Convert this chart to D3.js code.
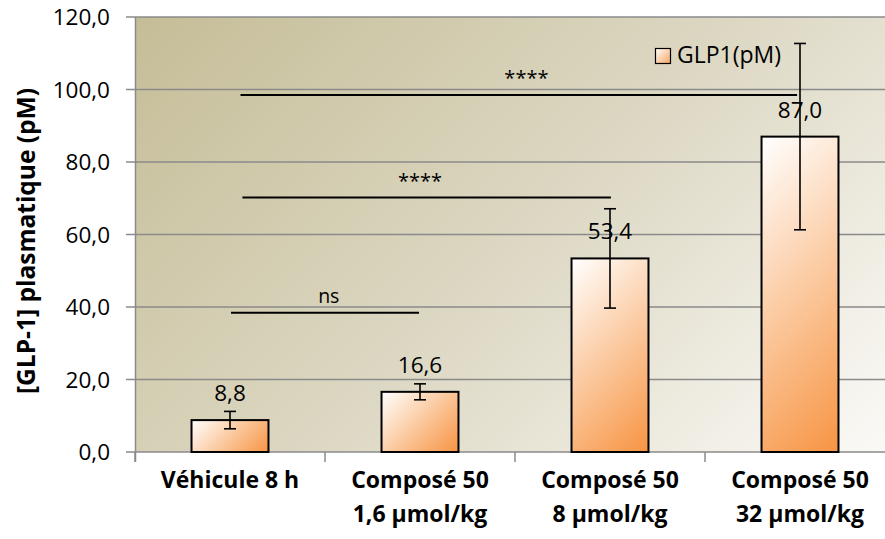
<!DOCTYPE html>
<html><head><meta charset="utf-8">
<script src="https://cdn.jsdelivr.net/npm/d3@7"></script>
<style>
html,body{margin:0;padding:0;background:#fff;}
svg{display:block;}
text{font-family:"Open Sans","Noto Sans",sans-serif;fill:#000;}
</style></head>
<body>
<script>
const categories = [["Véhicule 8 h"], ["Composé 50","1,6 µmol/kg"], ["Composé 50","8 µmol/kg"], ["Composé 50","32 µmol/kg"]];
const values = [8.8, 16.6, 53.4, 87.0];
const errors = [2.4, 2.2, 13.7, 25.7];
const yTicks = [0, 20, 40, 60, 80, 100, 120];
const seriesName = "GLP1(pM)";
const yTitle = "[GLP-1] plasmatique (pM)";
const sigLabels = ["ns", "****", "****"];
const sigLevels = [38.4, 70.2, 98.5];
const sigFrom = [0.0, 0.06, 0.05];
const sigTo = [1.0, 2.01, 2.99];
const sigTextAt = [0.52, 1.0, 1.56];

(function () {
const W = 885, H = 539;
const pL = 135, pR = 895, pT = 17, pB = 452;
const fmt = v => d3.format(".1f")(v).replace(".", ",");

const svg = d3.select("body").append("svg").attr("width", W).attr("height", H);
const defs = svg.append("defs");

const x = d3.scaleBand().domain(d3.range(categories.length)).range([pL, pR]).paddingInner(0.595).paddingOuter(0.2975);
const xi = d3.scaleLinear().domain([-0.5, categories.length - 0.5]).range([pL, pR]);
const y = d3.scaleLinear().domain([0, 120]).range([pB, pT]);

const bgS = ((pR - pL) + (pB - pT)) / 2;
const bg = defs.append("linearGradient").attr("id", "bg").attr("gradientUnits", "userSpaceOnUse")
  .attr("x1", pL).attr("y1", pT).attr("x2", pL + bgS).attr("y2", pT + bgS);
bg.append("stop").attr("offset", 0).attr("stop-color", "#c5bd97");
bg.append("stop").attr("offset", 0.5).attr("stop-color", "#dcd7c2");
bg.append("stop").attr("offset", 1).attr("stop-color", "#fbfaf7");
svg.append("rect").attr("x", pL).attr("y", pT).attr("width", pR - pL).attr("height", pB - pT).attr("fill", "url(#bg)");

svg.append("g").selectAll("line").data(yTicks).join("line")
  .attr("x1", pL - 9).attr("x2", pR).attr("y1", d => y(d)).attr("y2", d => y(d))
  .attr("stroke", "#8a8a8a").attr("stroke-width", 1.5);
svg.append("line").attr("x1", pL + 0.5).attr("x2", pL + 0.5).attr("y1", pT).attr("y2", pB + 10)
  .attr("stroke", "#8a8a8a").attr("stroke-width", 1.5);
svg.append("g").selectAll("line").data(d3.range(categories.length + 1)).join("line")
  .attr("x1", d => xi(d - 0.5)).attr("x2", d => xi(d - 0.5)).attr("y1", pB).attr("y2", pB + 10)
  .attr("stroke", "#8a8a8a").attr("stroke-width", 1.5);

svg.append("g").selectAll("text").data(yTicks).join("text")
  .attr("x", 110).attr("y", d => y(d)).attr("dy", "0.36em").attr("text-anchor", "end")
  .style("font-size", "22.5px").text(d => fmt(d));

svg.append("text").attr("transform", `translate(35,241) rotate(-90)`).attr("text-anchor", "middle")
  .style("font-size", "24.5px").style("font-weight", "bold").text(yTitle);

values.forEach((v, i) => {
  const bx = x(i), by = y(v), bw = x.bandwidth(), bh = y(0) - y(v);
  const s = (bw + bh) / 2;
  const g = defs.append("linearGradient").attr("id", "bar" + i).attr("gradientUnits", "userSpaceOnUse")
    .attr("x1", bx).attr("y1", by).attr("x2", bx + s).attr("y2", by + s);
  g.append("stop").attr("offset", 0).attr("stop-color", "#ffffff");
  g.append("stop").attr("offset", 0.5).attr("stop-color", "#fbc99f");
  g.append("stop").attr("offset", 1).attr("stop-color", "#f79443");
});
svg.append("g").selectAll("rect").data(values).join("rect")
  .attr("x", (d, i) => x(i)).attr("y", d => y(d)).attr("width", x.bandwidth()).attr("height", d => y(0) - y(d))
  .attr("fill", (d, i) => `url(#bar${i})`).attr("stroke", "#000").attr("stroke-width", 2);

const eb = svg.append("g").attr("stroke", "#000").attr("stroke-width", 1.6);
values.forEach((v, i) => {
  const cx = x(i) + x.bandwidth() / 2;
  eb.append("line").attr("x1", cx).attr("x2", cx).attr("y1", y(v + errors[i])).attr("y2", y(v - errors[i]));
  [v + errors[i], v - errors[i]].forEach(e => eb.append("line").attr("x1", cx - 6).attr("x2", cx + 6).attr("y1", y(e)).attr("y2", y(e)));
});

svg.append("g").selectAll("text").data(values).join("text")
  .attr("x", (d, i) => x(i) + x.bandwidth() / 2).attr("y", d => y(d) - 19).attr("text-anchor", "middle")
  .style("font-size", "22.5px").text(d => fmt(d));

sigLabels.forEach((lab, i) => {
  svg.append("line").attr("x1", xi(sigFrom[i]) + 1).attr("x2", xi(sigTo[i]) - 1).attr("y1", y(sigLevels[i])).attr("y2", y(sigLevels[i]))
    .attr("stroke", "#000").attr("stroke-width", 2);
  svg.append("text").attr("x", xi(sigTextAt[i])).attr("y", y(sigLevels[i]) - 10).attr("text-anchor", "middle")
    .style("font-size", lab === "ns" ? "19.5px" : "20px").text(lab);
});

categories.forEach((lines, i) => {
  const t = svg.append("text").attr("text-anchor", "middle").style("font-size", "23px").style("font-weight", "bold");
  lines.forEach((ln, j) => t.append("tspan").attr("x", x(i) + x.bandwidth() / 2).attr("y", 488 + j * 34).text(ln));
});

const lg = defs.append("linearGradient").attr("id", "leg").attr("x1", 0).attr("y1", 0).attr("x2", 1).attr("y2", 1);
lg.append("stop").attr("offset", 0).attr("stop-color", "#ffffff");
lg.append("stop").attr("offset", 1).attr("stop-color", "#f7a461");
svg.append("rect").attr("x", 655.5).attr("y", 48.5).attr("width", 15).attr("height", 15)
  .attr("fill", "url(#leg)").attr("stroke", "#000").attr("stroke-width", 1.2);
svg.append("text").attr("x", 677).attr("y", 63).style("font-size", "23px").text(seriesName);
})();
</script>
</body></html>
